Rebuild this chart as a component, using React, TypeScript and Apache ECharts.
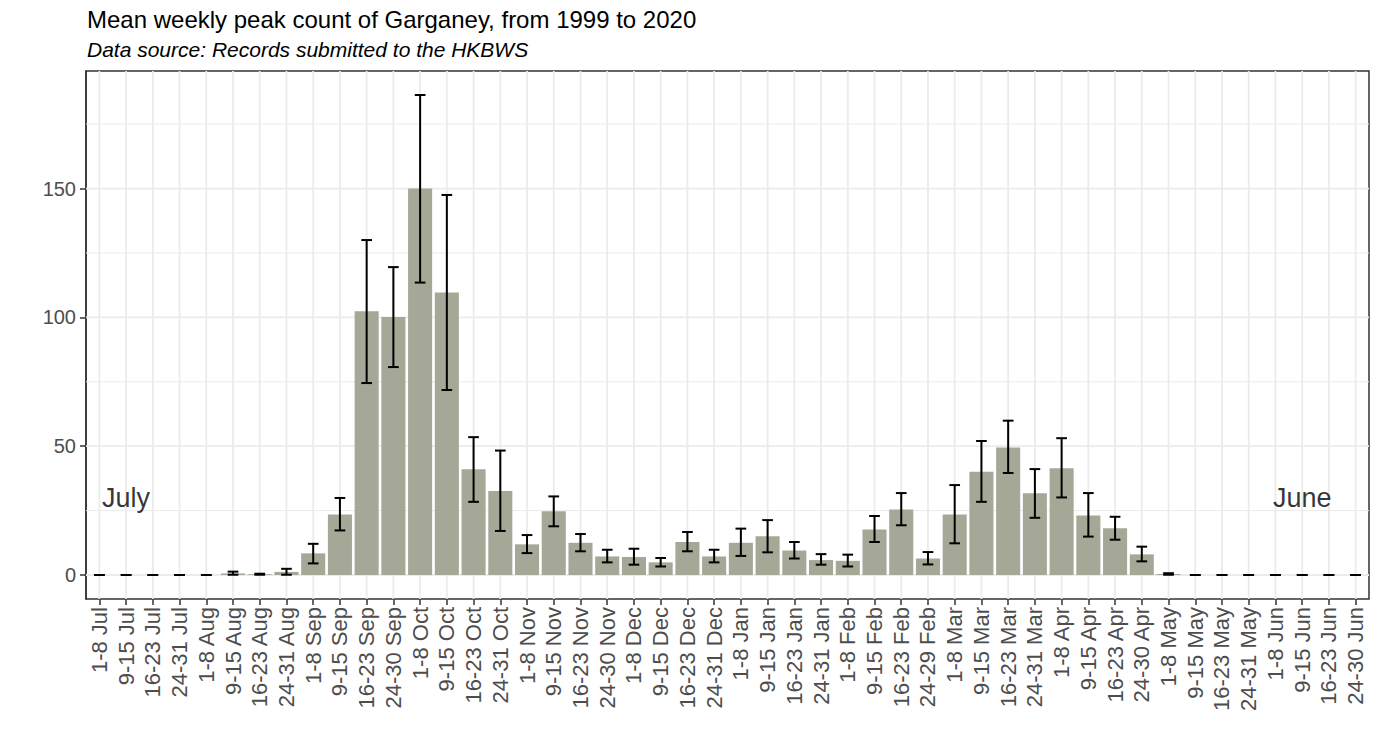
import React, { useEffect, useRef } from "react";
import * as echarts from "echarts";

const categories = [
  "1-8 Jul", "9-15 Jul", "16-23 Jul", "24-31 Jul",
  "1-8 Aug", "9-15 Aug", "16-23 Aug", "24-31 Aug",
  "1-8 Sep", "9-15 Sep", "16-23 Sep", "24-30 Sep",
  "1-8 Oct", "9-15 Oct", "16-23 Oct", "24-31 Oct",
  "1-8 Nov", "9-15 Nov", "16-23 Nov", "24-30 Nov",
  "1-8 Dec", "9-15 Dec", "16-23 Dec", "24-31 Dec",
  "1-8 Jan", "9-15 Jan", "16-23 Jan", "24-31 Jan",
  "1-8 Feb", "9-15 Feb", "16-23 Feb", "24-29 Feb",
  "1-8 Mar", "9-15 Mar", "16-23 Mar", "24-31 Mar",
  "1-8 Apr", "9-15 Apr", "16-23 Apr", "24-30 Apr",
  "1-8 May", "9-15 May", "16-23 May", "24-31 May",
  "1-8 Jun", "9-15 Jun", "16-23 Jun", "24-30 Jun",
];

const meanCounts = [
  0, 0, 0, 0,
  0, 0.6, 0.3, 1.2,
  8.4, 23.5, 102.4, 100.1,
  150.0, 109.6, 41.0, 32.6,
  11.9, 24.7, 12.5, 7.2,
  7.0, 4.9, 12.8, 7.2,
  12.5, 15.0, 9.5, 5.8,
  5.5, 17.7, 25.4, 6.4,
  23.5, 40.1, 49.5, 31.7,
  41.4, 23.1, 18.1, 8.0,
  0.4, 0, 0, 0,
  0, 0, 0, 0,
];

const lowerBounds = [
  0, 0, 0, 0,
  0, 0.1, 0.1, 0.1,
  4.5, 17.3, 74.5, 80.7,
  113.5, 71.8, 28.4, 17.1,
  8.5, 18.9, 9.2, 4.9,
  4.0, 3.3, 9.2, 4.9,
  7.4, 8.8, 6.4, 4.0,
  3.3, 12.8, 19.3, 4.1,
  12.3, 28.4, 39.6, 22.2,
  30.1, 14.9, 13.7, 5.3,
  0.1, 0, 0, 0,
  0, 0, 0, 0,
];

const upperBounds = [
  0, 0, 0, 0,
  0, 1.3, 0.5, 2.4,
  12.1, 29.9, 130.0, 119.5,
  186.3, 147.5, 53.5, 48.3,
  15.5, 30.5, 15.9, 9.8,
  10.2, 6.6, 16.7, 9.8,
  18.0, 21.3, 12.8, 8.1,
  7.9, 22.9, 31.8, 8.9,
  34.9, 52.0, 59.9, 41.1,
  53.1, 31.8, 22.6, 11.0,
  0.7, 0, 0, 0,
  0, 0, 0, 0,
];

const majorTicks = [0, 50, 100, 150];
const minorTicks = [25, 75, 125, 175];

const annotationLabels = ["July", "June"];
const annotationCategories = ["9-15 Jul", "9-15 Jun"];
const annotationValues = [30, 30];

const titleText = "Mean weekly peak count of Garganey, from 1999 to 2020";
const subtitleText = "Data source: Records submitted to the HKBWS";

const FONT = "'Liberation Sans', Arial, Helvetica, sans-serif";

export default function App() {
  const ref = useRef<HTMLDivElement>(null);

  useEffect(() => {
    document.body.style.margin = "0";
    if (!ref.current) return;
    const chart = echarts.init(ref.current, null, { renderer: "svg" });

    const dataMax = Math.max(...upperBounds);
    const pad = dataMax * 0.05;
    const yMin = -pad;
    const yMax = dataMax + pad;

    const gridLineData = [
      ...minorTicks.map((v) => [0, v, 0]),
      ...majorTicks.map((v) => [0, v, 1]),
    ];

    const option: any = {
      animation: false,
      backgroundColor: "#ffffff",
      textStyle: { fontFamily: FONT },
      title: [
        {
          text: titleText,
          left: 87,
          top: 7,
          padding: 0,
          textStyle: { fontSize: 24, fontWeight: "normal", color: "#000000", fontFamily: FONT },
        },
        {
          text: subtitleText,
          left: 87,
          top: 39,
          padding: 0,
          textStyle: { fontSize: 21, fontWeight: "normal", fontStyle: "italic", color: "#000000", fontFamily: FONT },
        },
      ],
      grid: {
        left: 86,
        top: 71,
        width: 1283,
        height: 528,
        show: true,
        backgroundColor: "#ffffff",
        borderColor: "#333333",
        borderWidth: 1.5,
        containLabel: false,
        outerBoundsMode: "none",
      },
      xAxis: {
        type: "category",
        data: categories,
        boundaryGap: true,
        axisLine: { show: false, onZero: false },
        axisTick: {
          show: true,
          alignWithLabel: true,
          interval: 0,
          length: 6,
          lineStyle: { color: "#333333", width: 1.5 },
        },
        axisLabel: {
          interval: 0,
          rotate: 90,
          margin: 8,
          fontSize: 22,
          color: "#4D4D4D",
          fontFamily: FONT,
          hideOverlap: false,
        },
        splitLine: { show: false },
      },
      yAxis: {
        type: "value",
        min: yMin,
        max: yMax,
        axisLine: { show: true, onZero: false, lineStyle: { color: "#333333", width: 1.5 } },
        axisTick: {
          show: true,
          length: 6,
          lineStyle: { color: "#333333", width: 1.5 },
          customValues: majorTicks,
        },
        axisLabel: {
          show: true,
          margin: 10,
          fontSize: 20,
          color: "#4D4D4D",
          fontFamily: FONT,
          customValues: majorTicks,
          formatter: (v: number) => String(v),
        },
        splitLine: { show: false },
        minorSplitLine: { show: false },
      },
      series: [
        {
          type: "custom",
          name: "hgrid",
          silent: true,
          z: 1,
          data: gridLineData,
          encode: { x: 0, y: 1 },
          renderItem: (params: any, api: any) => {
            const cs = params.coordSys;
            const y = api.coord([0, api.value(1)])[1];
            const major = api.value(2) === 1;
            return {
              type: "line",
              shape: { x1: cs.x, y1: y, x2: cs.x + cs.width, y2: y },
              style: { stroke: "#EBEBEB", lineWidth: major ? 1.8 : 1 },
              silent: true,
            };
          },
        },
        {
          type: "custom",
          name: "vgrid",
          silent: true,
          z: 1,
          data: categories.map((c, i) => [i, 0]),
          encode: { x: 0, y: 1 },
          renderItem: (params: any, api: any) => {
            const cs = params.coordSys;
            const x = api.coord([api.value(0), 0])[0];
            return {
              type: "line",
              shape: { x1: x, y1: cs.y, x2: x, y2: cs.y + cs.height },
              style: { stroke: "#EBEBEB", lineWidth: 1.8 },
              silent: true,
            };
          },
        },
        {
          type: "bar",
          name: "Mean weekly peak count",
          data: meanCounts,
          barWidth: "90%",
          z: 2,
          itemStyle: { color: "#A5A897" },
        },
        {
          type: "custom",
          name: "errorbars",
          z: 3,
          data: categories.map((c, i) => [i, lowerBounds[i], upperBounds[i]]),
          encode: { x: 0, y: [1, 2] },
          renderItem: (params: any, api: any) => {
            const i = api.value(0);
            const lo = api.coord([i, api.value(1)]);
            const hi = api.coord([i, api.value(2)]);
            const half = (api.size([1, 0])[0] * 0.4) / 2;
            const style = { stroke: "#000000", lineWidth: 2 };
            return {
              type: "group",
              children: [
                { type: "line", shape: { x1: lo[0], y1: hi[1], x2: lo[0], y2: lo[1] }, style },
                { type: "line", shape: { x1: lo[0] - half, y1: hi[1], x2: lo[0] + half, y2: hi[1] }, style },
                { type: "line", shape: { x1: lo[0] - half, y1: lo[1], x2: lo[0] + half, y2: lo[1] }, style },
              ],
            };
          },
        },
        {
          type: "scatter",
          name: "annotations",
          z: 4,
          symbolSize: 1,
          itemStyle: { color: "rgba(0,0,0,0)" },
          data: annotationCategories.map((c, i) => ({
            name: annotationLabels[i],
            value: [c, annotationValues[i]],
          })),
          label: {
            show: true,
            position: "inside",
            formatter: "{b}",
            fontSize: 27,
            color: "#000000",
            fontFamily: FONT,
          },
        },
      ],
    };

    chart.setOption(option);
    return () => {
      chart.dispose();
    };
  }, []);

  return <div ref={ref} style={{ width: "1379px", height: "752px" }} />;
}
